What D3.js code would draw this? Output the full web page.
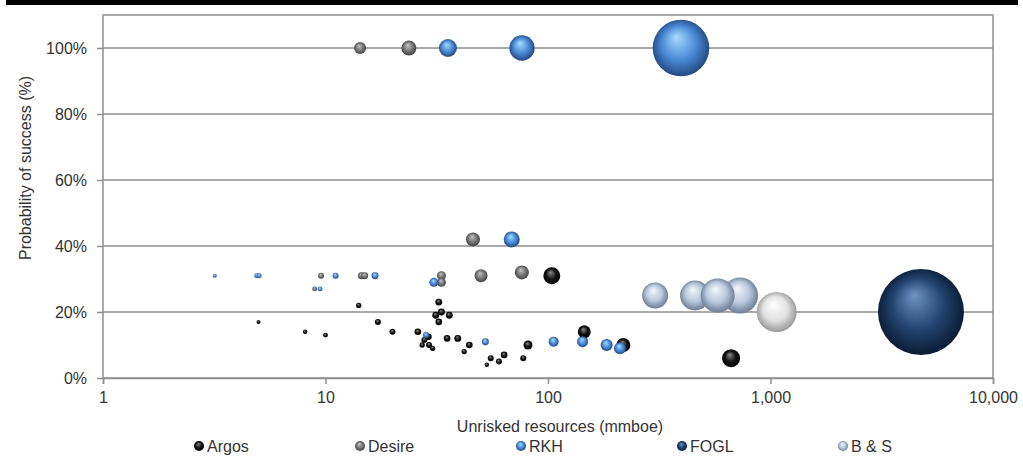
<!DOCTYPE html>
<html>
<head>
<meta charset="utf-8">
<script src="https://cdn.jsdelivr.net/npm/d3@7"></script>
<style>
  html, body { margin: 0; padding: 0; background: #fff; }
  svg { display: block; font-family: "Liberation Sans", Arial, sans-serif; }
  text { fill: #333; }
</style>
</head>
<body>
<div id="chart"></div>
<script>
// each point: [unrisked resources (mmboe), probability of success (%), bubble size]
const argos = [
  [5.0, 17, 4], [8.1, 14, 5], [10.0, 13, 6], [14.1, 22, 7], [17.2, 17, 9],
  [20.0, 14, 9], [26, 14, 11], [29, 12.5, 11], [27.8, 11.5, 9], [27.2, 10, 7],
  [29.2, 10, 9], [30.3, 9, 7], [32.3, 23, 12], [33.2, 20, 12], [31.3, 19, 12],
  [36, 19, 12], [32.3, 17, 11], [35.2, 12, 11], [39.3, 12, 12], [44.3, 10, 11],
  [42.0, 8, 7], [55.3, 6, 9], [53.1, 4, 5], [60.2, 5, 9], [63.5, 7, 11],
  [77.4, 6, 9], [81.3, 10, 20], [104, 31, 72], [145.6, 14, 42], [218, 10, 49],
  [665, 6, 81]
];
const desire = [
  [14.3, 100, 36], [23.7, 100, 56], [46, 42, 49], [50, 31, 42], [76.3, 32, 49],
  [33.2, 31, 20], [33.2, 29, 20], [9.55, 31, 9], [14.5, 31, 12], [15.0, 31, 12],
  [8.94, 27, 6]
];
const rkh = [
  [35.5, 100, 81], [76.4, 100, 160], [396, 100, 800], [68.7, 42, 64], [30.7, 29, 20],
  [3.18, 31, 4], [4.91, 31, 6], [5.04, 31, 6], [11.1, 31, 9], [16.7, 31, 12],
  [9.45, 27, 6], [28.3, 13, 9], [52.3, 11, 12], [106, 11, 25], [143, 11, 30],
  [183.5, 10, 36], [210.6, 9, 36]
];
const fogl = [[4745, 20, 1849]];
const bs = [[303, 25, 169], [458, 25, 225], [730, 25, 324], [579, 25, 289]];
const other = [[1066, 20, 400]];

const seriesNames = ["Argos", "Desire", "RKH", "FOGL", "B & S"];
const xTicks = [1, 10, 100, 1000, 10000];
const yTicks = [0, 20, 40, 60, 80, 100];

// gradient stops for the shaded spheres: highlight, body, edge
const palettes = {
  argos:  ["#8a8a8a", "#111", "#000"],
  desire: ["#c4c4c4", "#777", "#3a3a3a"],
  rkh:    ["#a8dcff", "#4a8ad6", "#1c3f72"],
  fogl:   ["#6f93c4", "#21436f", "#07152a"],
  bs:     ["#f4f8fd", "#b7c8dc", "#5f7088"],
  other:  ["#ffffff", "#e2e2e2", "#8c8c8c"]
};

const series = [
  { key: "argos", name: seriesNames[0], data: argos },
  { key: "desire", name: seriesNames[1], data: desire },
  { key: "rkh", name: seriesNames[2], data: rkh },
  { key: "fogl", name: seriesNames[3], data: fogl },
  { key: "bs", name: seriesNames[4], data: bs },
  { key: "other", name: null, data: other }
];

const w = 1023, h = 465;
const plotL = 103, plotR = 993, plotT = 15, plotB = 378;

const svg = d3.select("#chart").append("svg")
  .attr("width", w).attr("height", h);

const defs = svg.append("defs");
Object.keys(palettes).forEach(k => {
  const g = defs.append("radialGradient")
    .attr("id", "grad-" + k)
    .attr("cx", "50%").attr("cy", "50%").attr("r", "55%")
    .attr("fx", "42%").attr("fy", "30%");
  g.append("stop").attr("offset", "0%").attr("stop-color", palettes[k][0]);
  g.append("stop").attr("offset", "55%").attr("stop-color", palettes[k][1]);
  g.append("stop").attr("offset", "100%").attr("stop-color", palettes[k][2]);
});

// top rule
svg.append("rect").attr("x", 6).attr("y", 0).attr("width", 1012).attr("height", 5).attr("fill", "#000");

const xScale = d3.scaleLog().domain([1, 10000]).range([plotL, plotR]);
const yScale = d3.scaleLinear().domain([0, 110]).range([plotB, plotT]);
const maxSize = d3.max(fogl, d => d[2]);
const rScale = d3.scaleSqrt().domain([0, maxSize]).range([0, 43]);

// frame and gridlines
const lineCol = "#8e8e8e";
svg.append("g").selectAll("line")
  .data(yTicks.filter(d => d > 0))
  .enter().append("line")
  .attr("x1", plotL).attr("x2", plotR)
  .attr("y1", d => yScale(d)).attr("y2", d => yScale(d))
  .attr("stroke", lineCol).attr("stroke-width", 1.5);

svg.append("rect")
  .attr("x", plotL).attr("y", plotT)
  .attr("width", plotR - plotL).attr("height", plotB - plotT)
  .attr("fill", "none").attr("stroke", lineCol).attr("stroke-width", 1.5);

const xAxis = d3.axisBottom(xScale).tickValues(xTicks).tickFormat(d3.format(",")).tickSize(6).tickPadding(8);
const gx = svg.append("g").attr("transform", `translate(0,${plotB})`).call(xAxis);
gx.select(".domain").attr("stroke", lineCol).attr("stroke-width", 1.5);
gx.selectAll(".tick line").attr("stroke", lineCol).attr("stroke-width", 1.5);
gx.selectAll(".tick text").attr("font-size", 16).attr("fill", "#333").attr("font-family", null);

const yAxis = d3.axisLeft(yScale).tickValues(yTicks).tickFormat(d => d + "%").tickSize(6).tickPadding(10);
const gy = svg.append("g").attr("transform", `translate(${plotL},0)`).call(yAxis);
gy.select(".domain").remove();
gy.selectAll(".tick line").attr("stroke", lineCol).attr("stroke-width", 1.5);
gy.selectAll(".tick text").attr("font-size", 16).attr("fill", "#333").attr("font-family", null);

// axis titles
svg.append("text")
  .attr("x", 560).attr("y", 432)
  .attr("text-anchor", "middle").attr("font-size", 16)
  .text("Unrisked resources (mmboe)");

svg.append("text")
  .attr("transform", "translate(31,168) rotate(-90)")
  .attr("text-anchor", "middle").attr("font-size", 16)
  .text("Probability of success (%)");

// bubbles
const plot = svg.append("g");
series.forEach(s => {
  plot.append("g").selectAll("circle")
    .data(s.data)
    .enter().append("circle")
    .attr("cx", d => xScale(d[0]))
    .attr("cy", d => yScale(d[1]))
    .attr("r", d => rScale(d[2]))
    .attr("fill", `url(#grad-${s.key})`);
});

// legend
const legend = svg.append("g").attr("transform", "translate(199,452)");
const items = legend.selectAll("g")
  .data(series.filter(s => s.name))
  .enter().append("g")
  .attr("transform", (d, i) => `translate(${i * 161},0)`);
items.append("circle")
  .attr("cx", 0).attr("cy", -6).attr("r", 5)
  .attr("fill", d => `url(#grad-${d.key})`);
items.append("text")
  .attr("x", 8).attr("y", 0)
  .attr("font-size", 16)
  .text(d => d.name);
</script>
</body>
</html>
